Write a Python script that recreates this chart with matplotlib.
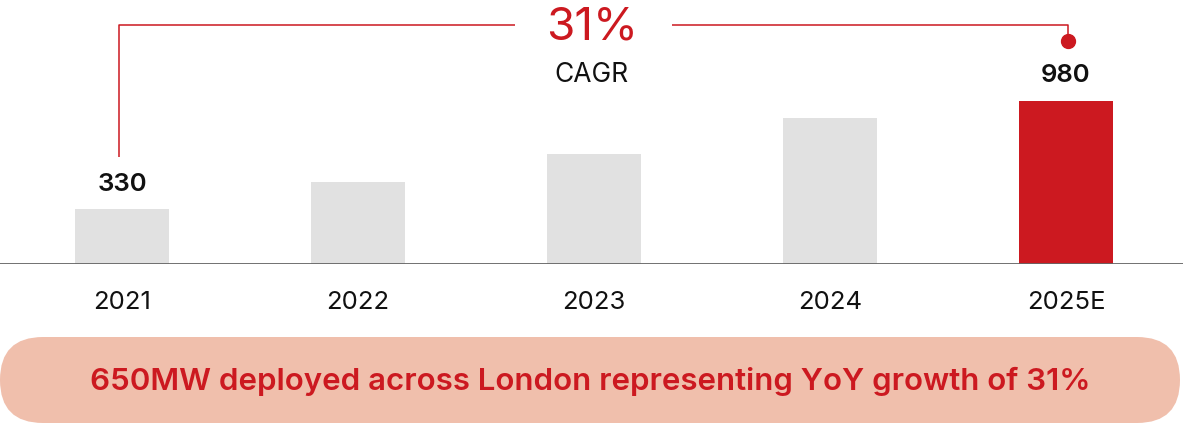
import matplotlib.pyplot as plt
from matplotlib.patches import FancyBboxPatch

plt.rcParams['font.family'] = ['Inter', 'DejaVu Sans']

# data
years = ["2021", "2022", "2023", "2024", "2025E"]
capacity_mw = [330, 490, 660, 880, 980]
labelled = [0, 4]  # bars that carry a value label
cagr_text = "31%"
headline = "650MW deployed across London representing YoY growth of 31%"

RED = "#CC1920"
GREY = "#E1E1E1"
PILL = "#F0BFAC"

fig = plt.figure(figsize=(11.83, 4.23), dpi=100)

# background layer in pixel coords (for the pill)
bg = fig.add_axes([0, 0, 1, 1])
bg.set_xlim(0, 1183)
bg.set_ylim(423, 0)
bg.axis("off")
pill = FancyBboxPatch((0, 337), 1180, 86, boxstyle="round,pad=0,rounding_size=43",
                      fc=PILL, ec="none")
bg.add_patch(pill)
bg.text(590, 381, headline, color=RED, fontsize=22.5, fontweight="semibold",
        ha="center", va="center")

# main bar axes
ax = fig.add_axes([0, 0.376, 1, 0.624])
ax.patch.set_alpha(0)
x = list(range(len(years)))
colors = [GREY] * (len(years) - 1) + [RED]
ax.bar(x, capacity_mw, width=0.40, color=colors, zorder=2)
ax.set_xlim(-0.517, 4.496)
ax.set_ylim(0, 1587)
ax.axhline(0, color="#666666", lw=1.3, zorder=3)
for s in ax.spines.values():
    s.set_visible(False)
ax.set_xticks([])
ax.set_yticks([])

for i, yr in enumerate(years):
    ax.annotate(yr, (i, 0), xytext=(0, -28), textcoords="offset points",
                ha="center", va="center", fontsize=18.5, color="#111111")

for i in labelled:
    ax.annotate(f"{capacity_mw[i]}", (i, capacity_mw[i]), xytext=(0, 18),
                textcoords="offset points", ha="center", va="center",
                fontsize=18.5, fontweight="semibold", color="#111111")

# CAGR connector
top_y = 1437
ax.plot([-0.013, -0.013, 1.665], [643, top_y, top_y], color=RED, lw=1.1,
        solid_capstyle="butt", zorder=4, clip_on=False)
ax.plot([2.33, 4.008, 4.008], [top_y, top_y, 1341], color=RED, lw=1.1,
        solid_capstyle="butt", zorder=4, clip_on=False)
ax.plot([4.008], [1341], "o", color=RED, ms=10, zorder=5, clip_on=False)
ax.text(1.99, 1419, cagr_text, color=RED, fontsize=33, ha="center", va="center")
ax.text(1.99, 1136, "CAGR", color="#111111", fontsize=19, ha="center", va="center")

fig.savefig("out.png", dpi=100)
